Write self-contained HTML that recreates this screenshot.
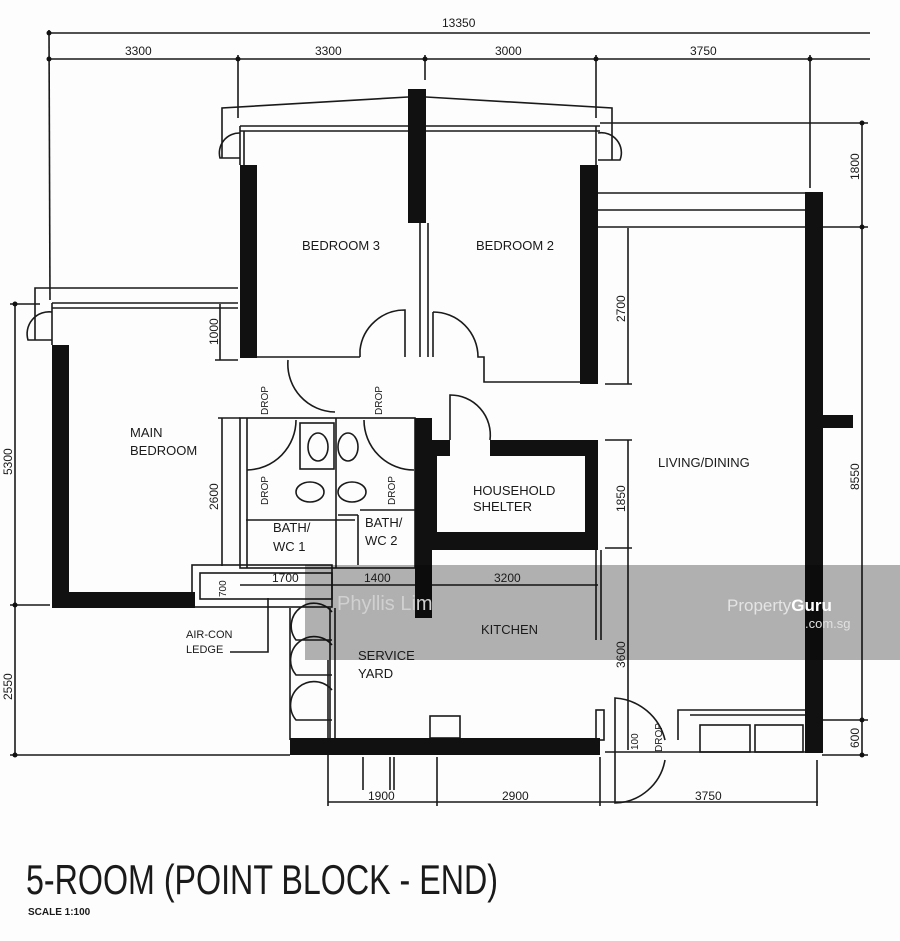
<!DOCTYPE html>
<html><head><meta charset="utf-8"><style>
html,body{margin:0;padding:0;background:#fdfdfd;}
svg{display:block;}
text{font-family:"Liberation Sans",sans-serif;fill:#1a1a1a;}
</style></head><body>
<svg width="900" height="941" viewBox="0 0 900 941" xmlns="http://www.w3.org/2000/svg">
<rect width="900" height="941" fill="#fdfdfd"/>
<g stroke="#1a1a1a" stroke-width="1.6" fill="none">
<line x1="48" y1="33" x2="870" y2="33"/>
<line x1="48" y1="59" x2="870" y2="59"/>
<line x1="49" y1="30" x2="50" y2="300"/>
<line x1="238" y1="55" x2="238" y2="118"/>
<line x1="425" y1="55" x2="425" y2="80"/>
<line x1="596" y1="55" x2="596" y2="118"/>
<line x1="810" y1="55" x2="810" y2="188"/>
<line x1="862" y1="122" x2="862" y2="756"/>
<line x1="600" y1="123" x2="868" y2="123"/>
<line x1="822" y1="227" x2="868" y2="227"/>
<line x1="822" y1="720" x2="868" y2="720"/>
<line x1="822" y1="755" x2="868" y2="755"/>
<line x1="15" y1="304" x2="15" y2="757"/>
<line x1="10" y1="304" x2="40" y2="304"/>
<line x1="10" y1="605" x2="50" y2="605"/>
<line x1="10" y1="755" x2="290" y2="755"/>
<line x1="220" y1="304" x2="220" y2="360"/>
<line x1="215" y1="360" x2="238" y2="360"/>
<line x1="222" y1="418" x2="222" y2="566"/>
<line x1="218" y1="418" x2="240" y2="418"/>
<line x1="628" y1="228" x2="628" y2="384"/>
<line x1="605" y1="384" x2="632" y2="384"/>
<line x1="628" y1="440" x2="628" y2="750"/>
<line x1="605" y1="440" x2="632" y2="440"/>
<line x1="605" y1="548" x2="632" y2="548"/>
<line x1="328" y1="802" x2="818" y2="802"/>
<line x1="328" y1="660" x2="328" y2="806"/>
<line x1="390" y1="757" x2="390" y2="790"/>
<line x1="394" y1="757" x2="394" y2="790"/>
<line x1="363" y1="757" x2="363" y2="790"/>
<line x1="437" y1="757" x2="437" y2="806"/>
<line x1="600" y1="757" x2="600" y2="806"/>
<line x1="817" y1="760" x2="817" y2="806"/>
<line x1="240" y1="585" x2="598" y2="585"/>
<polyline points="222,158 222,108 408,97"/>
<polyline points="426,97 612,108 612,160"/>
<line x1="240" y1="126" x2="600" y2="126"/>
<line x1="240" y1="131" x2="600" y2="131"/>
<line x1="240" y1="126" x2="240" y2="165"/>
<line x1="244" y1="131" x2="244" y2="165"/>
<line x1="596" y1="126" x2="596" y2="165"/>
<path d="M240 133 A20 20 0 0 0 220 158 L240 158"/>
<path d="M598 133 A20 20 0 0 1 620 160 L598 160"/>
<polyline points="35,340 35,288 238,288"/>
<line x1="52" y1="303" x2="238" y2="303"/>
<line x1="52" y1="308" x2="238" y2="308"/>
<line x1="52" y1="303" x2="52" y2="345"/>
<path d="M52 312 A22 22 0 0 0 28 340 L52 340"/>
<line x1="420" y1="223" x2="420" y2="357"/>
<line x1="257" y1="357" x2="360" y2="357"/>
<path d="M360 357 L360 350 A45 45 0 0 1 405 310 L405 357"/>
<path d="M433 312 L433 357 M433 312 A45 45 0 0 1 478 357 L484 357 L484 382 L580 382"/>
<line x1="428" y1="223" x2="428" y2="357"/>
<line x1="598" y1="193" x2="805" y2="193"/>
<line x1="598" y1="210" x2="805" y2="210"/>
<line x1="598" y1="227" x2="805" y2="227"/>
<path d="M288 360 A48 48 0 0 0 335 412"/>
<rect x="240" y="418" width="175" height="150"/>
<line x1="247" y1="418" x2="247" y2="568"/>
<line x1="336" y1="418" x2="336" y2="568"/>
<line x1="246" y1="520" x2="355" y2="520"/>
<line x1="360" y1="510" x2="415" y2="510"/>
<line x1="338" y1="515" x2="358" y2="515"/>
<line x1="358" y1="515" x2="358" y2="565"/>
<path d="M247 470 A50 50 0 0 0 296 420"/>
<path d="M414 470 A50 50 0 0 1 364 420"/>
<ellipse cx="318" cy="447" rx="10" ry="14"/>
<ellipse cx="348" cy="447" rx="10" ry="14"/>
<rect x="300" y="423" width="34" height="46"/>
<ellipse cx="310" cy="492" rx="14" ry="10"/>
<ellipse cx="352" cy="492" rx="14" ry="10"/>
<rect x="192" y="565" width="140" height="42"/>
<rect x="200" y="573" width="132" height="26"/>
<polyline points="268,598 268,652 230,652"/>
<line x1="330" y1="608" x2="330" y2="740"/>
<line x1="335" y1="608" x2="335" y2="740"/>
<line x1="290" y1="608" x2="290" y2="740"/>
<path d="M332 612 A22 22 0 0 0 296 640 L332 640"/>
<path d="M332 645 A22 22 0 0 0 296 675 L332 675"/>
<path d="M332 690 A22 22 0 0 0 296 720 L332 720"/>
<line x1="596" y1="550" x2="596" y2="640"/>
<line x1="601" y1="550" x2="601" y2="640"/>
<rect x="430" y="716" width="30" height="22"/>
<rect x="596" y="710" width="8" height="30"/>
<path d="M450 440 L450 395 A40 40 0 0 1 490 440"/>
<path d="M615 752 L615 698 A55 55 0 0 1 665 740 M615 752 L615 803 A52 52 0 0 0 665 760"/>
<path d="M678 740 L678 710 L805 710 M690 715 L805 715"/>
<rect x="700" y="725" width="50" height="27"/>
<rect x="755" y="725" width="48" height="27"/>
<line x1="605" y1="752" x2="805" y2="752"/>
</g>
<g fill="#111">
<circle cx="49" cy="33" r="2.5"/><circle cx="49" cy="59" r="2.5"/><circle cx="238" cy="59" r="2.5"/><circle cx="425" cy="59" r="2.5"/><circle cx="596" cy="59" r="2.5"/><circle cx="810" cy="59" r="2.5"/>
<circle cx="862" cy="123" r="2.5"/><circle cx="862" cy="227" r="2.5"/><circle cx="862" cy="720" r="2.5"/><circle cx="862" cy="755" r="2.5"/>
<circle cx="15" cy="304" r="2.5"/><circle cx="15" cy="605" r="2.5"/><circle cx="15" cy="755" r="2.5"/>
<rect x="408" y="89" width="18" height="134"/>
<rect x="240" y="165" width="17" height="193"/>
<rect x="580" y="165" width="18" height="219"/>
<rect x="805" y="192" width="18" height="561"/>
<rect x="822" y="415" width="31" height="13"/>
<rect x="52" y="345" width="17" height="263"/>
<rect x="52" y="592" width="143" height="16"/>
<rect x="290" y="738" width="310" height="17"/>
<rect x="415" y="418" width="17" height="200"/>
<rect x="425" y="440" width="25" height="16"/>
<rect x="490" y="440" width="108" height="16"/>
<rect x="585" y="440" width="13" height="110"/>
<rect x="425" y="532" width="173" height="18"/>
<rect x="425" y="440" width="12" height="110"/>
</g>
<rect x="305" y="565" width="595" height="95" fill="#b2b2b2" style="mix-blend-mode:multiply"/>
<g font-size="13">
<text x="442" y="27" font-size="12">13350</text>
<text x="125" y="55" font-size="12">3300</text>
<text x="315" y="55" font-size="12">3300</text>
<text x="495" y="55" font-size="12">3000</text>
<text x="690" y="55" font-size="12">3750</text>
<text x="302" y="250">BEDROOM 3</text>
<text x="476" y="250">BEDROOM 2</text>
<text x="130" y="437">MAIN</text>
<text x="130" y="455">BEDROOM</text>
<text x="658" y="467">LIVING/DINING</text>
<text x="473" y="495">HOUSEHOLD</text>
<text x="473" y="511">SHELTER</text>
<text x="273" y="532">BATH/</text>
<text x="273" y="551">WC 1</text>
<text x="365" y="527">BATH/</text>
<text x="365" y="545">WC 2</text>
<text x="481" y="634">KITCHEN</text>
<text x="358" y="660">SERVICE</text>
<text x="358" y="678">YARD</text>
<text x="186" y="638" font-size="11">AIR-CON</text>
<text x="186" y="653" font-size="11">LEDGE</text>
<text x="272" y="582" font-size="12">1700</text>
<text x="364" y="582" font-size="12">1400</text>
<text x="494" y="582" font-size="12">3200</text>
<text x="368" y="800" font-size="12">1900</text>
<text x="502" y="800" font-size="12">2900</text>
<text x="695" y="800" font-size="12">3750</text>
</g>
<g font-size="12">
<text transform="translate(12,475) rotate(-90)">5300</text>
<text transform="translate(12,700) rotate(-90)">2550</text>
<text transform="translate(218,345) rotate(-90)">1000</text>
<text transform="translate(218,510) rotate(-90)">2600</text>
<text transform="translate(226,597) rotate(-90)" font-size="10">700</text>
<text transform="translate(625,322) rotate(-90)">2700</text>
<text transform="translate(625,512) rotate(-90)">1850</text>
<text transform="translate(625,668) rotate(-90)">3600</text>
<text transform="translate(859,180) rotate(-90)">1800</text>
<text transform="translate(859,490) rotate(-90)">8550</text>
<text transform="translate(859,748) rotate(-90)">600</text>
<text transform="translate(638,750) rotate(-90)" font-size="10">100</text>
<text transform="translate(662,752) rotate(-90)" font-size="10">DROP</text>
<text transform="translate(268,415) rotate(-90)" font-size="10">DROP</text>
<text transform="translate(382,415) rotate(-90)" font-size="10">DROP</text>
<text transform="translate(268,505) rotate(-90)" font-size="10">DROP</text>
<text transform="translate(395,505) rotate(-90)" font-size="10">DROP</text>
</g>
<text x="337" y="610" font-size="20" style="fill:#d0d0d0">Phyllis Lim</text>
<text x="727" y="611" font-size="17" style="fill:#e4e4e4">Property<tspan font-weight="bold" style="fill:#fff">Guru</tspan></text>
<text x="805" y="628" font-size="13" style="fill:#e0e0e0">.com.sg</text>
<text x="26" y="894" font-size="42" textLength="472" lengthAdjust="spacingAndGlyphs">5-ROOM (POINT BLOCK - END)</text>
<text x="28" y="915" font-size="10" font-weight="bold">SCALE  1:100</text>
</svg>
</body></html>
